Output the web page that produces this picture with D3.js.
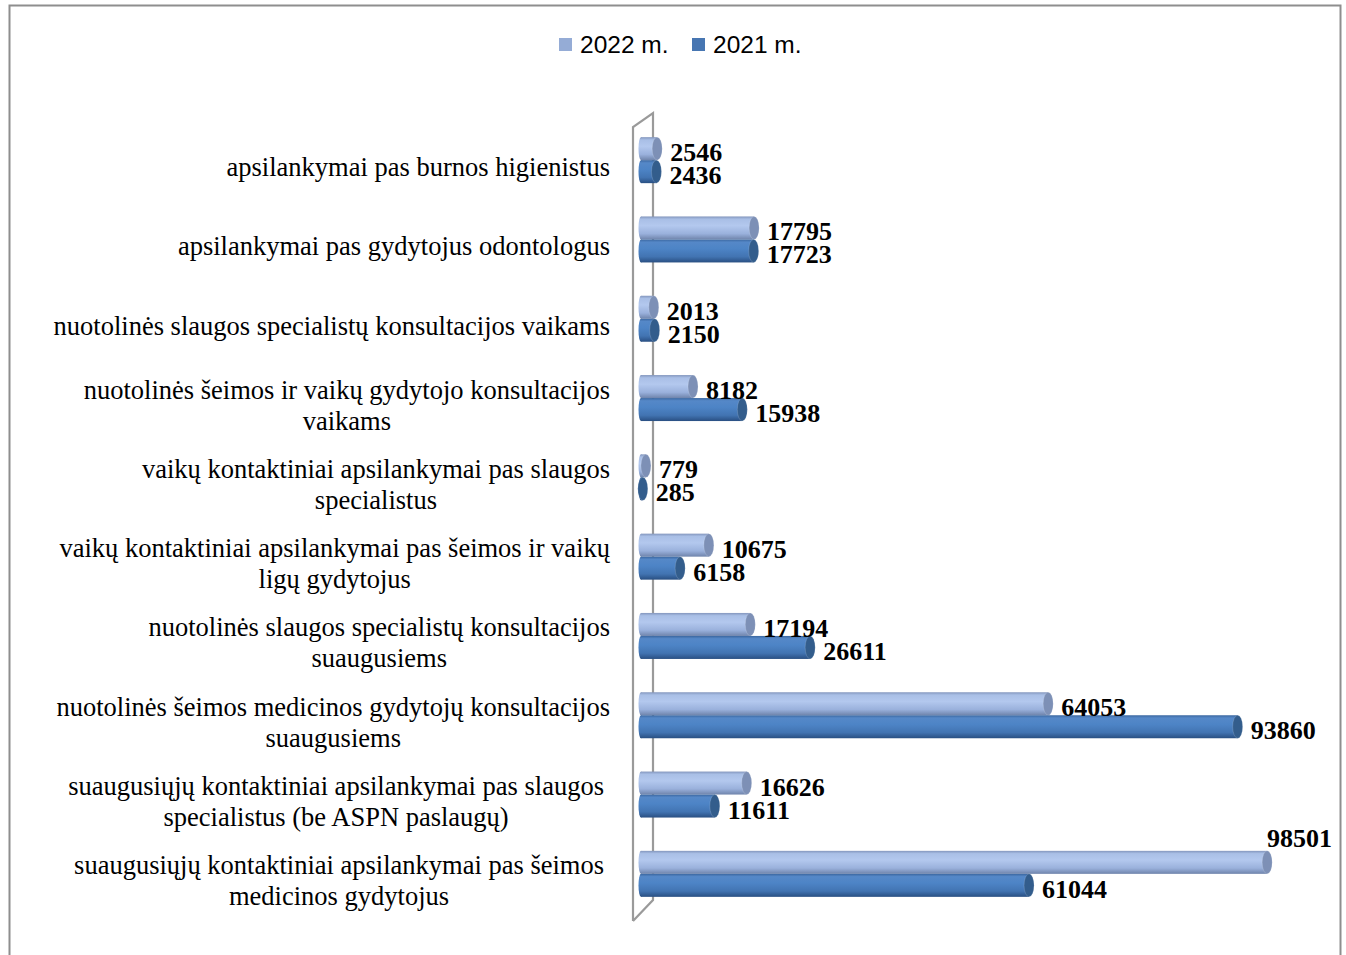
<!DOCTYPE html>
<html><head><meta charset="utf-8">
<script src="https://cdn.jsdelivr.net/npm/d3@7"></script>
<style>body{margin:0;background:#fff}svg{display:block}</style>
</head><body>
<svg id="c" width="1346" height="955"></svg>
<script>
const categories = [
  ["apsilankymai pas burnos higienistus"],
  ["apsilankymai pas gydytojus odontologus"],
  ["nuotolinės slaugos specialistų konsultacijos vaikams"],
  ["nuotolinės šeimos ir vaikų gydytojo konsultacijos", "vaikams"],
  ["vaikų kontaktiniai apsilankymai pas slaugos", "specialistus"],
  ["vaikų kontaktiniai apsilankymai pas šeimos ir vaikų", "ligų gydytojus"],
  ["nuotolinės slaugos specialistų konsultacijos", "suaugusiems"],
  ["nuotolinės šeimos medicinos gydytojų konsultacijos", "suaugusiems"],
  ["suaugusiųjų kontaktiniai apsilankymai pas slaugos", "specialistus (be ASPN paslaugų)"],
  ["suaugusiųjų kontaktiniai apsilankymai pas šeimos", "medicinos gydytojus"]
];
const seriesNames = ["2022 m.", "2021 m."];
const values2022 = [2546, 17795, 2013, 8182, 779, 10675, 17194, 64053, 16626, 98501];
const values2021 = [2436, 17723, 2150, 15938, 285, 6158, 26611, 93860, 11611, 61044];

const svg = d3.select("#c");
const defs = svg.append("defs");

// frame
svg.append("rect").attr("x", 9.5).attr("y", 5.5).attr("width", 1331).attr("height", 960)
  .attr("fill", "none").attr("stroke", "#8e8e8e").attr("stroke-width", 2);

const keys = categories.map((c, i) => "c" + i);
const y = d3.scaleBand().domain(keys).range([120.5, 913.5]).paddingInner(0.42).paddingOuter(0.21);
const ySub = d3.scaleBand().domain(seriesNames).range([0, y.bandwidth()]);
const x = d3.scaleLinear().domain([0, 100000]).range([641, 1276.7]);

// gradients
const palettes = {
  "2022 m.": {stops: [["0%", "#8396bd"], ["12%", "#a9bfe6"], ["40%", "#b3c8ee"], ["75%", "#9ab1dc"], ["100%", "#6f84ab"]], cap: "#7d90b6", legend: "#95acd6"},
  "2021 m.": {stops: [["0%", "#3b67a0"], ["12%", "#5588c8"], ["40%", "#4d84c6"], ["75%", "#4274b2"], ["100%", "#294f82"]], cap: "#335d8c", legend: "#4776b2"}
};
seriesNames.forEach((s, i) => {
  const g = defs.append("linearGradient").attr("id", "g" + i).attr("x1", 0).attr("y1", 0).attr("x2", 0).attr("y2", 1);
  palettes[s].stops.forEach(st => g.append("stop").attr("offset", st[0]).attr("stop-color", st[1]));
});

// 3D wall
const wall = svg.append("g").attr("fill", "none").attr("stroke", "#9a9a9a").attr("stroke-width", 2.2);
wall.append("path").attr("d", `M633,921 L633,127 L653,113 L653,900 L633,921`);

// bars
const rows = categories.map((c, i) => ({key: keys[i], lines: c, v: [values2022[i], values2021[i]]}));
const bars = svg.append("g");
rows.forEach(r => {
  seriesNames.forEach((s, si) => {
    const v = r.v[si];
    const top = y(r.key) + ySub(s);
    const h = ySub.bandwidth();
    const cy = top + h / 2;
    const x0 = x(0), x1 = x(v);
    const rx = 5;
    const g = bars.append("g");
    g.append("ellipse").attr("cx", x0).attr("cy", cy).attr("rx", 2.5).attr("ry", h / 2).attr("fill", `url(#g${si})`);
    g.append("rect").attr("x", x0).attr("y", top).attr("width", Math.max(0, x1 - x0)).attr("height", h).attr("fill", `url(#g${si})`);
    g.append("ellipse").attr("cx", x1).attr("cy", cy).attr("rx", rx).attr("ry", h / 2).attr("fill", palettes[s].cap)
      .attr("stroke", "#ffffff").attr("stroke-opacity", 0.25).attr("stroke-width", 0.6);
  });
});

// value labels
const labs = svg.append("g").attr("font-family", "'Liberation Serif','Times New Roman',serif")
  .attr("font-weight", "bold").attr("font-size", 26).attr("fill", "#000");
rows.forEach(r => {
  seriesNames.forEach((s, si) => {
    const v = r.v[si];
    const top = y(r.key) + ySub(s);
    const cy = top + ySub.bandwidth() / 2;
    const t = labs.append("text").text(v);
    const w = t.node().getComputedTextLength();
    let tx = x(v) + 5 + 8, ty = cy + 12.5;
    if (tx + w > 1332) { tx = 1332 - w; ty = top - 4; }
    t.attr("x", tx).attr("y", ty);
  });
});

// category labels
const cats = svg.append("g").attr("font-family", "'Liberation Serif','Times New Roman',serif")
  .attr("font-size", 26.5).attr("fill", "#000").attr("text-anchor", "middle");
rows.forEach((r, i) => {
  const c = y(r.key) + y.bandwidth() / 2 + 8;
  const lh = 31;
  const g = cats.append("g");
  const texts = r.lines.map((l, li) => g.append("text").text(l)
    .attr("y", c + (li - (r.lines.length - 1) / 2) * lh + 8));
  const maxW = d3.max(texts, t => t.node().getComputedTextLength());
  const right = i >= 8 ? 604 : 610;
  texts.forEach(t => t.attr("x", right - maxW / 2));
});

// legend
const leg = svg.append("g").attr("font-family", "'Liberation Sans',Arial,sans-serif").attr("font-size", 24.5);
const legX = [559, 692];
seriesNames.forEach((s, i) => {
  leg.append("rect").attr("x", legX[i]).attr("y", 38).attr("width", 13).attr("height", 13).attr("fill", palettes[s].legend);
  leg.append("text").attr("x", legX[i] + 21).attr("y", 53).text(s);
});
</script>
</body></html>
